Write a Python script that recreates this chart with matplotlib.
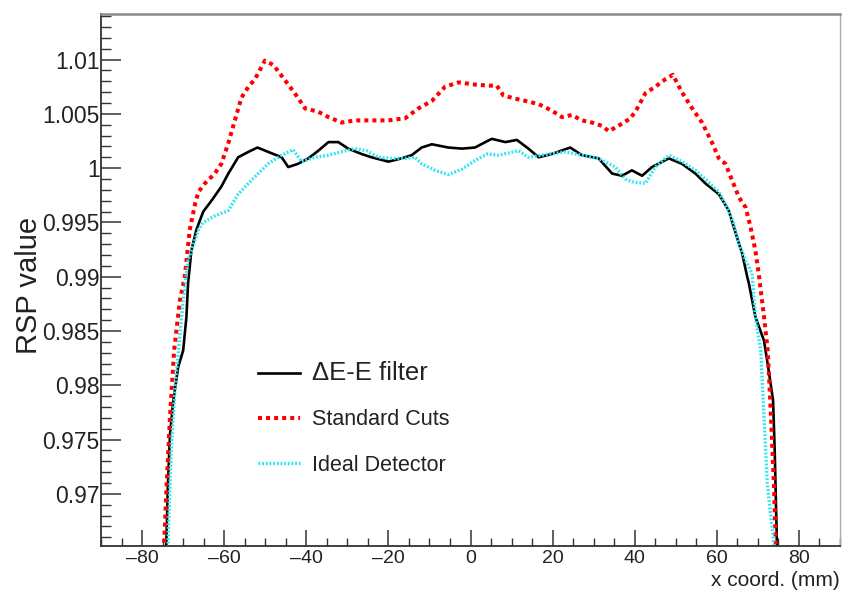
import matplotlib
matplotlib.use("Agg")
import matplotlib.pyplot as plt
from matplotlib.ticker import MultipleLocator, FixedLocator

plt.rcParams['font.family'] = ['Liberation Sans', 'DejaVu Sans']

# RSP profiles across the phantom (x in mm)
x_filter = [-75.5, -74.1, -73.7, -73.2, -72.4, -71.2, -70.0, -69.2, -68.8, -68.0,
            -66.8, -65.1, -63.1, -60.7, -59.0, -56.6, -54.1, -51.9, -49.3, -46.0,
            -44.4, -42.0, -39.5, -37.1, -34.6, -32.2, -29.8, -26.5, -24.1, -20.0,
            -16.8, -14.3, -11.9, -9.4, -5.4, -2.1, 1.1, 3.6, 5.2, 8.5,
            11.3, 14.1, 16.6, 19.8, 24.3, 27.1, 31.2, 34.5, 36.9, 39.3,
            41.8, 44.2, 48.3, 51.5, 54.8, 57.2, 60.5, 62.9, 64.6, 66.2,
            67.4, 67.8, 69.4, 71.5, 72.5, 73.7, 74.1, 74.6, 74.9]
rsp_filter = [0.9600, 0.9654, 0.9709, 0.9755, 0.9786, 0.9817, 0.9832, 0.9863, 0.9894, 0.9924,
              0.9943, 0.9960, 0.9970, 0.9983, 0.9995, 1.0010, 1.0015, 1.0019, 1.0015, 1.0010,
              1.0001, 1.0004, 1.0009, 1.0016, 1.0024, 1.0024, 1.0018, 1.0013, 1.0010, 1.0006,
              1.0009, 1.0012, 1.0019, 1.0022, 1.0019, 1.0018, 1.0019, 1.0024, 1.0027, 1.0024,
              1.0026, 1.0018, 1.0010, 1.0013, 1.0019, 1.0012, 1.0009, 0.9995, 0.9993, 0.9998,
              0.9993, 1.0001, 1.0009, 1.0004, 0.9995, 0.9986, 0.9976, 0.9961, 0.9940, 0.9921,
              0.9900, 0.9894, 0.9863, 0.9841, 0.9817, 0.9786, 0.9740, 0.9660, 0.9600]

x_std = [-75.5, -74.6, -74.0, -73.2, -72.2, -70.8, -69.6, -68.4, -67.1, -66.3,
         -64.7, -62.3, -60.7, -59.0, -57.4, -55.8, -54.1, -52.5, -50.1, -48.0,
         -45.2, -42.8, -40.3, -37.1, -34.6, -31.4, -28.1, -24.1, -20.0, -15.9,
         -12.7, -9.4, -6.2, -2.9, 1.1, 4.4, 6.4, 8.0, 10.9, 13.3,
         16.6, 19.8, 22.3, 24.7, 27.1, 29.6, 32.0, 33.7, 36.9, 39.0,
         40.6, 42.6, 45.0, 47.5, 49.3, 51.5, 54.0, 56.4, 58.9, 60.5,
         62.1, 63.7, 65.4, 67.0, 68.2, 69.4, 70.2, 71.5, 72.4, 73.2,
         73.9, 74.3, 74.6]
rsp_std = [0.9600, 0.9657, 0.9710, 0.9771, 0.9832, 0.9878, 0.9900, 0.9943, 0.9967, 0.9978,
           0.9986, 0.9995, 1.0004, 1.0023, 1.0044, 1.0065, 1.0075, 1.0082, 1.0099, 1.0095,
           1.0081, 1.0069, 1.0055, 1.0052, 1.0047, 1.0042, 1.0044, 1.0044, 1.0044, 1.0046,
           1.0055, 1.0062, 1.0075, 1.0079, 1.0077, 1.0076, 1.0076, 1.0067, 1.0064, 1.0062,
           1.0059, 1.0053, 1.0047, 1.0049, 1.0044, 1.0042, 1.0039, 1.0034, 1.0041, 1.0046,
           1.0055, 1.0069, 1.0075, 1.0082, 1.0086, 1.0070, 1.0055, 1.0042, 1.0023, 1.0009,
           1.0004, 0.9989, 0.9973, 0.9964, 0.9946, 0.9924, 0.9903, 0.9863, 0.9832, 0.9771,
           0.9710, 0.9660, 0.9600]

x_ideal = [-75.0, -73.7, -72.9, -71.9, -70.0, -68.8, -66.3, -65.1, -62.3, -59.0,
           -56.6, -54.1, -51.7, -49.3, -46.0, -43.2, -41.1, -37.9, -34.6, -31.4,
           -28.1, -25.3, -22.4, -19.2, -15.9, -13.5, -11.9, -8.6, -5.4, -2.1,
           1.1, 4.0, 6.8, 11.7, 14.1, 17.4, 23.1, 27.1, 31.2, 35.3,
           37.7, 39.8, 42.6, 45.0, 48.3, 51.5, 54.8, 58.0, 60.5, 62.5,
           64.1, 65.4, 67.0, 68.6, 69.4, 70.7, 71.5, 72.3, 73.9, 74.2]
rsp_ideal = [0.9600, 0.9654, 0.9740, 0.9802, 0.9878, 0.9915, 0.9943, 0.9950, 0.9956, 0.9961,
             0.9976, 0.9986, 0.9995, 1.0004, 1.0012, 1.0017, 1.0006, 1.0010, 1.0012, 1.0015,
             1.0018, 1.0016, 1.0010, 1.0009, 1.0009, 1.0010, 1.0004, 0.9998, 0.9994, 0.9999,
             1.0007, 1.0013, 1.0012, 1.0016, 1.0010, 1.0012, 1.0015, 1.0012, 1.0009, 1.0001,
             0.9990, 0.9987, 0.9986, 1.0001, 1.0012, 1.0006, 0.9998, 0.9987, 0.9978, 0.9964,
             0.9949, 0.9930, 0.9915, 0.9903, 0.9863, 0.9832, 0.9771, 0.9709, 0.9654, 0.9600]

labels = ["\u0394E-E filter", "Standard Cuts", "Ideal Detector"]

fig = plt.figure(figsize=(8.42, 5.90), dpi=100)
ax = fig.add_axes([0.120, 0.0746, 0.8776, 0.9017])

l1, = ax.plot(x_filter, rsp_filter, color='black', lw=1.9, solid_joinstyle='round')
l2, = ax.plot(x_std, rsp_std, color='#ff0000', lw=2.9, linestyle=(0, (1, 1)))
l3, = ax.plot(x_ideal, rsp_ideal, color='#2ce6f2', lw=2.4, linestyle=(0, (0.55, 0.55)))

ax.set_xlim(-90, 90)
ax.set_ylim(0.9652, 1.0142)

ax.xaxis.set_major_locator(MultipleLocator(20))
ax.xaxis.set_minor_locator(MultipleLocator(5))
ax.yaxis.set_major_locator(FixedLocator([0.97, 0.975, 0.98, 0.985, 0.99, 0.995, 1.0, 1.005, 1.01]))
ax.yaxis.set_minor_locator(MultipleLocator(0.001))
ax.set_yticklabels(['0.97', '0.975', '0.98', '0.985', '0.99', '0.995', '1', '1.005', '1.01'])
ax.set_xticks(range(-80, 81, 20))
ax.set_xticklabels([f"\u2013{abs(v)}" if v < 0 else f"{v}" for v in range(-80, 81, 20)])

ax.tick_params(axis='both', which='both', direction='in', top=False, right=False,
               color='#333333', labelcolor='#222222')
ax.tick_params(axis='y', which='major', length=14.4, width=1.1, labelsize=16.5, pad=1)
ax.tick_params(axis='y', which='minor', length=7.2, width=1.0)
ax.tick_params(axis='x', which='major', length=11.5, width=1.1, labelsize=14, pad=3)
ax.tick_params(axis='x', which='minor', length=5.8, width=1.0)

for side in ('left', 'bottom'):
    ax.spines[side].set_color('#333333')
    ax.spines[side].set_linewidth(1.3)
ax.spines['top'].set_color('#8a8a8a')
ax.spines['top'].set_linewidth(1.8)
ax.spines['right'].set_color('#aaaaaa')
ax.spines['right'].set_linewidth(1.0)

ax.set_ylabel("RSP value", fontsize=21, color='#222222')
ax.yaxis.set_label_coords(-0.097, 0.49)
ax.yaxis.label.set_va('center')
ax.set_xlabel("x coord. (mm)", fontsize=15, color='#222222', loc='right')
ax.xaxis.set_label_coords(1.0, -0.064)
ax.xaxis.label.set_va('center')

leg = ax.legend([l1, l2, l3], labels, loc='upper left', bbox_to_anchor=(0.2125, 0.347),
                frameon=False, fontsize=15.5, handlelength=1.95, handletextpad=0.55,
                labelspacing=1.12, borderpad=0, borderaxespad=0)
for t in leg.get_texts():
    t.set_color('#222222')
leg.get_texts()[0].set_fontsize(18.5)

fig.savefig("out.png", dpi=100)
